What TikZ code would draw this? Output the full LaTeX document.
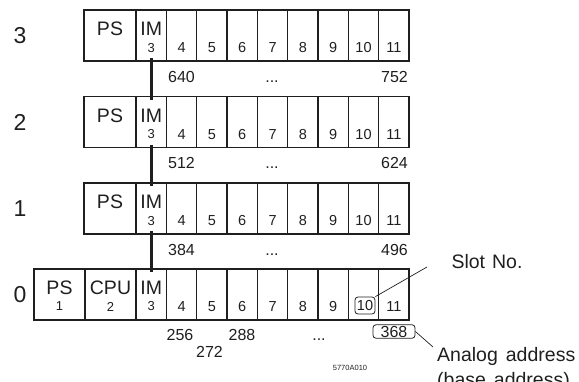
\documentclass[tikz,border=0pt]{standalone}
\usepackage{fontspec}
\setmainfont{Liberation Sans}
\usetikzlibrary{calc}
\begin{document}
\begin{tikzpicture}[x=1pt,y=-1pt,
 cell/.style={draw=black!88,line width=1.25pt,minimum height=51pt,inner sep=0pt,outer sep=0pt,anchor=north west},
 lbl/.style={inner sep=0pt,text=black!88,font=\fontsize{19.5}{20}\selectfont},
 num/.style={inner sep=0pt,text=black!88,font=\fontsize{14.5}{15}\selectfont},
 sub/.style={inner sep=0pt,text=black!88,font=\fontsize{13}{14}\selectfont},
 addr/.style={inner sep=0pt,text=black!88,font=\fontsize{16}{17}\selectfont},
 rackno/.style={inner sep=0pt,text=black!88,font=\fontsize{23}{24}\selectfont},
 note/.style={inner sep=0pt,text=black!88,font=\fontsize{19.5}{25}\selectfont},
 tag/.style={draw=black!88,line width=0.8pt,rounded corners=3pt},
 bus/.style={line width=3pt,draw=black!88},
 lead/.style={line width=0.7pt,draw=black!88}]
\useasboundingbox (0,0) rectangle (579,381);
\clip (0,0) rectangle (579,381);

\foreach \r/\t/\lo/\hi in {3/10/640/752, 2/96.5/512/624, 1/183/384/496} {
  \node[rackno] (rn\r) at (20,\t+25.5) {\r};
  \node[cell,minimum width=52pt] (ps\r) at (84,\t) {};
  \node[lbl] (pst\r) at (110,\t+19) {PS};
  \foreach \c in {3,...,11} {
    \node[cell,minimum width=30.333pt] (c\r-\c) at ({136+(\c-3)*30.333},\t) {};
  }
  \node[lbl] (im\r) at (151.2,\t+19) {IM};
  \node[sub] (imn\r) at (151.2,\t+38) {3};
  \foreach \c in {4,...,11} {
    \node[num] (n\r-\c) at ({151.2+(\c-3)*30.333},\t+38) {\c};
  }
  \node[addr,anchor=base] (lo\r) at (181.5,\t+72) {\lo};
  \node[addr,anchor=base] (dots\r) at (272,\t+72) {...};
  \node[addr,anchor=base east] (hi\r) at (408,\t+72) {\hi};
}

% rack 0
\node[rackno] (rn0) at (20,294.5) {0};
\node[cell,minimum width=51pt] (ps0) at (34,269) {};
\node[cell,minimum width=51pt] (cpu0) at (85,269) {};
\foreach \c in {3,...,11} {
  \node[cell,minimum width=30.333pt] (c0-\c) at ({136+(\c-3)*30.333},269) {};
}
\node[lbl] (pst0) at (59.5,288) {PS};
\node[sub] (psn0) at (59.5,306.5) {1};
\node[lbl] (cput0) at (110.5,288) {CPU};
\node[sub] (cpun0) at (110.5,306.5) {2};
\node[lbl] (im0) at (151.2,288) {IM};
\node[sub] (imn0) at (151.2,306.5) {3};
\foreach \c in {4,...,9,11} {
  \node[num] (n0-\c) at ({151.2+(\c-3)*30.333},307) {\c};
}
\node[num,tag,inner sep=0pt,minimum width=20pt,minimum height=17pt] (ten) at (365,305.5) {10};

\node[addr,anchor=base] (a256) at (180,340) {256};
\node[addr,anchor=base] (a272) at (209.5,357) {272};
\node[addr,anchor=base] (a288) at (242,340) {288};
\node[addr,anchor=base] (dots0) at (319,340) {...};
\node[addr,tag,inner sep=0pt,minimum width=42pt,minimum height=13.5pt] (a368) at (394,331.5) {368};

% expansion bus lines
\draw[bus] ($(c3-3.south)+(0,-3)$) -- ($(c2-3.north)+(0,3)$);
\draw[bus] ($(c2-3.south)+(0,-3)$) -- ($(c1-3.north)+(0,3)$);
\draw[bus] ($(c1-3.south)+(0,-3)$) -- ($(c0-3.north)+(0,3)$);

% annotations
\node[note] (slot) at (487,262) {Slot\hspace{7pt}No.};
\coordinate (slotend) at (427,267);
\draw[lead] (ten.north east) -- (slotend);

\node[note,align=left,anchor=north west] (analog) at (437,347.5) {Analog\hspace{8pt}address\\(base\hspace{8pt}address)};
\coordinate (analogend) at (433,347);
\draw[lead] (a368.east) -- (analogend);

\node[inner sep=0pt,text=black!88,font=\fontsize{7.5}{8}\selectfont] (code) at (350,368) {5770A010};
\end{tikzpicture}
\end{document}
